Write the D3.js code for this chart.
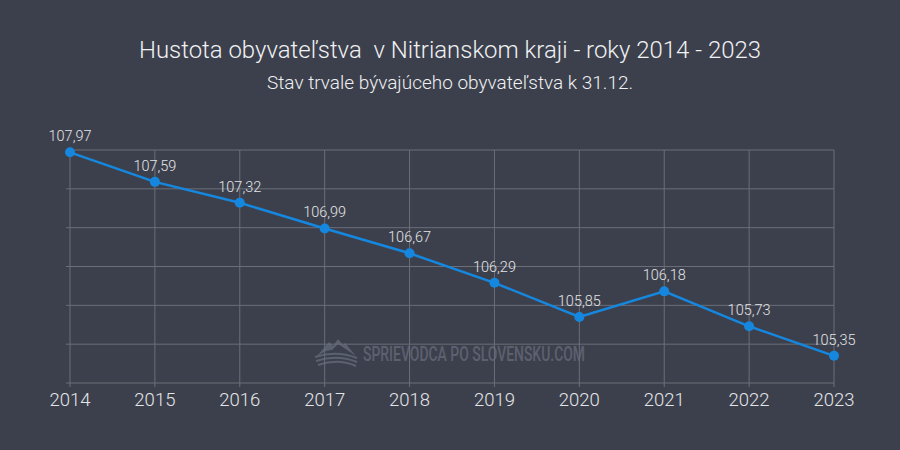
<!DOCTYPE html>
<html>
<head>
<meta charset="utf-8">
<script src="https://cdn.jsdelivr.net/npm/d3@7"></script>
<style>
  body { margin: 0; background: #3c404c; }
  text { font-family: Roboto, "Noto Sans", sans-serif; font-weight: 300; }
</style>
</head>
<body>
<div id="container"></div>
<script>
// Chart dimensions
var svg_width = 900
var svg_height = 450

// Data
var years = ["2014", "2015", "2016", "2017", "2018", "2019", "2020", "2021", "2022", "2023"]
var density = [107.97, 107.59, 107.32, 106.99, 106.67, 106.29, 105.85, 106.18, 105.73, 105.35]
var yTicks = [105, 105.5, 106, 106.5, 107, 107.5, 108]

var svg = d3.select("#container")
    .append("svg")
    .attr("width", svg_width)
    .attr("height", svg_height)

svg.append("rect")
    .attr("width", svg_width)
    .attr("height", svg_height)
    .attr("fill", "#3c404c")

// Scales
var x = d3.scalePoint()
    .domain(years)
    .range([70, 834])

var y = d3.scaleLinear()
    .domain([105, 108])
    .range([383, 150])

var gridColor = "#6a6e79"

// Watermark (behind the grid)
var wmColor = "#5c6170"
var wm = svg.append("g")
wm.append("path")
    .attr("d", "M317,356 L329,342 L333,346 L338,339 L343,345 L345,343 L356,356 L350,352 L344,348 L338,344 L332,350 L326,351 Z")
    .attr("fill", wmColor)
wm.append("path")
    .attr("d", "M315,357 Q336,350 357,358 M316,361 Q337,354 357,362 M318,365 Q338,358 356,366")
    .attr("fill", "none")
    .attr("stroke", wmColor)
    .attr("stroke-width", 2)
wm.append("text")
    .attr("x", 363)
    .attr("y", 361)
    .attr("fill", wmColor)
    .attr("font-size", 20)
    .style("font-weight", 500)
    .attr("textLength", 222)
    .attr("lengthAdjust", "spacingAndGlyphs")
    .text("SPRIEVODCA PO SLOVENSKU.COM")

// Horizontal grid
svg.append("g")
    .selectAll("line")
    .data(yTicks)
    .enter()
    .append("line")
    .attr("x1", 66)
    .attr("x2", 834)
    .attr("y1", d => y(d))
    .attr("y2", d => y(d))
    .attr("stroke", gridColor)
    .attr("stroke-width", 1)

// Vertical grid
svg.append("g")
    .selectAll("line")
    .data(years)
    .enter()
    .append("line")
    .attr("x1", d => x(d))
    .attr("x2", d => x(d))
    .attr("y1", y(108))
    .attr("y2", y(105) + 4)
    .attr("stroke", gridColor)
    .attr("stroke-width", 1)

// Year labels
svg.append("g")
    .selectAll("text")
    .data(years)
    .enter()
    .append("text")
    .attr("x", d => x(d))
    .attr("y", 406)
    .attr("text-anchor", "middle")
    .attr("fill", "#e4e5e8")
    .attr("font-size", 18.5)
    .text(d => d)

// Line
var line = d3.line()
    .x((d, i) => x(years[i]))
    .y(d => y(d))

svg.append("path")
    .datum(density)
    .attr("d", line)
    .attr("fill", "none")
    .attr("stroke", "#1687de")
    .attr("stroke-width", 2.5)

svg.append("g")
    .selectAll("circle")
    .data(density)
    .enter()
    .append("circle")
    .attr("cx", (d, i) => x(years[i]))
    .attr("cy", d => y(d))
    .attr("r", 5)
    .attr("fill", "#1687de")

// Value labels
svg.append("g")
    .selectAll("text")
    .data(density)
    .enter()
    .append("text")
    .attr("x", (d, i) => x(years[i]))
    .attr("y", d => y(d) - 11)
    .attr("text-anchor", "middle")
    .attr("fill", "#e4e5e8")
    .attr("font-size", 14.5)
    .text(d => d.toFixed(2).replace(".", ","))

// Titles
svg.append("text")
    .attr("x", 450)
    .attr("y", 58)
    .attr("text-anchor", "middle")
    .attr("fill", "#f0f1f3")
    .attr("font-size", 23)
    .attr("textLength", 622)
    .attr("lengthAdjust", "spacingAndGlyphs")
    .style("white-space", "pre")
    .text("Hustota obyvateľstva  v Nitrianskom kraji - roky 2014 - 2023")

svg.append("text")
    .attr("x", 450)
    .attr("y", 89)
    .attr("text-anchor", "middle")
    .attr("fill", "#f0f1f3")
    .attr("font-size", 18)
    .attr("textLength", 366)
    .attr("lengthAdjust", "spacingAndGlyphs")
    .text("Stav trvale bývajúceho obyvateľstva k 31.12.")
</script>
</body>
</html>
